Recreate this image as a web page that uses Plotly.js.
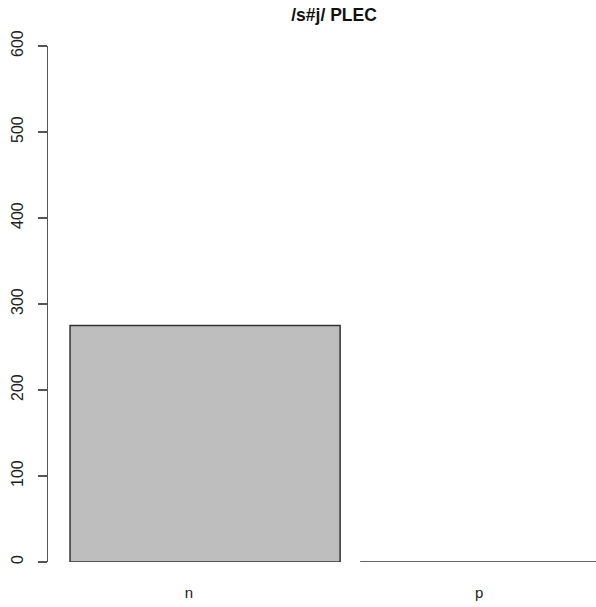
<!DOCTYPE html>
<html>
<head>
<meta charset="utf-8">
<script src="https://cdn.plot.ly/plotly-3.0.1.min.js"></script>
<style>html,body{margin:0;padding:0;background:#fff;}#chart{width:596px;height:607px;}</style>
</head>
<body>
<div id="chart"></div>
<script>
const categories = ["n", "p"];
const counts = [275, 0];
const yTicks = [0, 100, 200, 300, 400, 500, 600];
const chartTitle = "/s#j/ PLEC";

const xPos = categories.map((c, i) => i);

const trace = {
  type: "bar",
  x: xPos,
  y: counts,
  width: 0.931,
  offset: -0.41,
  marker: { color: "#bebebe", line: { color: "#333333", width: 1.5 } },
  cliponaxis: false,
  hoverinfo: "none"
};

const layout = {
  width: 596,
  height: 607,
  margin: { l: 48, r: 0, t: 46, b: 45, pad: 0 },
  paper_bgcolor: "#ffffff",
  plot_bgcolor: "#ffffff",
  showlegend: false,
  font: { family: "Liberation Sans, Arial, sans-serif", color: "#222222", size: 15 },
  title: {
    text: "<b>" + chartTitle + "</b>",
    font: { family: "Liberation Sans, Arial, sans-serif", size: 17.5, color: "#111111" },
    x: 0.522, xref: "paper", xanchor: "center",
    y: 0.975, yref: "container", yanchor: "middle"
  },
  xaxis: {
    range: [-0.486, 1.403],
    tickvals: xPos,
    ticktext: categories,
    showline: false,
    showgrid: false,
    zeroline: false,
    ticks: "",
    ticklabelstandoff: 20,
    tickfont: { size: 15, color: "#222222" }
  },
  yaxis: {
    range: [0, 600],
    tickvals: yTicks,
    ticktext: yTicks.map(String),
    tickangle: -90,
    showline: true,
    linecolor: "#555555",
    linewidth: 1.2,
    showgrid: false,
    zeroline: false,
    ticks: "outside",
    ticklen: 9,
    tickwidth: 1.2,
    tickcolor: "#555555",
    ticklabelstandoff: 8,
    tickfont: { size: 16, color: "#222222" }
  }
};

Plotly.newPlot("chart", [trace], layout, { displayModeBar: false, staticPlot: true });
</script>
</body>
</html>
